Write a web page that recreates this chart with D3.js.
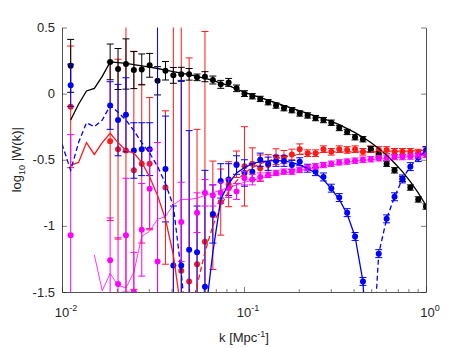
<!DOCTYPE html>
<html>
<head>
<meta charset="utf-8">
<script src="https://cdn.jsdelivr.net/npm/d3@7"></script>
<style>
  body { margin: 0; background: #fff; }
  svg { display: block; font-family: "Liberation Sans", Arial, sans-serif; }
</style>
</head>
<body>
<div id="chart"></div>
<script>
// k grid (first entry only used by the blue dashed model)
var kGrid = [0.0100, 0.01116, 0.01233, 0.01363, 0.01506, 0.01664, 0.01839, 0.02032, 0.02246, 0.02482,
  0.02743, 0.03031, 0.03350, 0.03702, 0.04091, 0.04521, 0.04996, 0.05521, 0.06101, 0.06743,
  0.07451, 0.08234, 0.09100, 0.1006, 0.1111, 0.1228, 0.1357, 0.1500, 0.1658, 0.1832,
  0.2024, 0.2237, 0.2472, 0.2732, 0.3019, 0.3337, 0.3687, 0.4075, 0.4503, 0.4976,
  0.5499, 0.6077, 0.6716, 0.7422, 0.8202, 0.9064, 1.0];

var n = null;

// black
var blackVal = [n, 0.21, n, n, n, n, 0.24, 0.186, 0.224, 0.178, 0.183, 0.214, 0.097, 0.173, 0.138, 0.146,
  0.146, 0.123, 0.128, 0.103, 0.07, 0.085, 0.04, 0.0, -0.02, -0.04, -0.065, -0.09, -0.11, -0.125,
  -0.15, -0.165, -0.185, -0.20, -0.22, -0.26, -0.29, -0.33, -0.345, -0.42, -0.46, -0.53, -0.58, -0.645,
  -0.71, -0.80, -0.854];
var blackErr = [n, 0.20, n, n, n, n, 0.135, 0.155, 0.19, 0.14, 0.117, 0.09, 0.107, 0.07, 0.06, 0.053,
  0.044, 0.025, 0.038, 0.03, 0.03, 0.03, 0.025, 0.022, 0.02, 0.02, 0.02, 0.02, 0.02, 0.02,
  0.02, 0.02, 0.02, 0.02, 0.02, 0.02, 0.02, 0.02, 0.02, 0.02, 0.02, 0.02, 0.02, 0.02,
  0.02, 0.02, 0.02];
var blackModel = [n, -0.2, -0.08, 0.02, 0.04, 0.13, 0.24, 0.235, 0.228, 0.22, 0.21, 0.2, 0.19, 0.178, 0.167,
  0.155, 0.143, 0.13, 0.115, 0.1, 0.08, 0.06, 0.035, 0.01, -0.01, -0.03, -0.05, -0.07, -0.09, -0.11,
  -0.13, -0.15, -0.17, -0.19, -0.21, -0.235, -0.265, -0.295, -0.33, -0.37, -0.415, -0.465, -0.525,
  -0.59, -0.665, -0.75, -0.845];

// red
var redVal = [n, -0.10, n, n, n, n, -0.36, -0.42, -0.43, -0.58, -0.53, -0.53, n, -0.71, -1.6, -1.34,
  -1.42, -1.29, -1.12, -0.92, -0.82, -0.685, -0.534, -0.55, -0.53, -0.564, -0.54, -0.477, -0.48, -0.46,
  -0.42, -0.45, -0.45, -0.42, -0.44, -0.42, -0.426, -0.42, -0.44, -0.42, -0.426, -0.426, -0.44, -0.44,
  -0.44, -0.446, -0.43];
var redErr = [n, 0.46, n, n, n, n, 0.6, 0.68, 1.2, 0.9, 0.6, 0.5, n, 0.58, 2.3, 2.0,
  1.69, 1.02, 1.59, 0.41, 0.25, 0.17, 0.1, 0.3, 0.12, 0.1, 0.08, 0.06, 0.05, 0.04,
  0.04, 0.025, 0.025, 0.025, 0.025, 0.025, 0.025, 0.025, 0.025, 0.025, 0.025, 0.025, 0.025, 0.025,
  0.025, 0.025, 0.025];
var redModel = [n, -0.54, -0.52, -0.37, -0.46, -0.37, -0.30, -0.37, -0.43, -0.45, -0.52, -0.63, -0.77,
  -0.95, -1.22, -1.65, n, n, n, n, n, n, n, n, n, n, n, n, n, n, n, n, n, n, n, n, n, n, n, n, n, n, n,
  n, n, n, n];
var redModelNeg = [n, n, n, n, n, n, n, n, n, n, n, n, n, n, n, n, -1.7, -1.45, -1.2, -1.0, -0.85, -0.74,
  -0.66, -0.6, -0.56, -0.53, -0.51, -0.49, -0.48, -0.47, -0.46, -0.455, -0.45, -0.445, -0.44, -0.44,
  -0.44, -0.44, -0.44, -0.44, -0.44, -0.435, -0.435, -0.435, -0.435, -0.43, -0.43];

// blue
var blueVal = [n, 0.063, n, n, n, n, -0.09, -0.2, -0.16, -0.43, -0.42, -0.42, -1.8, -0.57, -1.3, -1.3,
  -1.18, -1.2, -1.46, -0.91, -0.66, -0.65, -0.54, -0.6, -0.59, -0.50, -0.53, -0.51, -0.51, -0.54,
  -0.515, -0.564, -0.59, -0.63, -0.715, -0.786, -0.9, -1.08, -1.42, n, -1.21, -0.947, -0.78, -0.645,
  -0.552, -0.484, -0.43];
var blueErr = [n, 0.16, n, n, n, n, 0.18, 0.27, 0.28, 0.21, 0.2, 0.2, 2.5, 0.4, 0.45, 1.4,
  0.9, 0.35, 0.88, 0.22, 0.13, 0.12, 0.07, 0.1, 0.06, 0.05, 0.05, 0.04, 0.04, 0.035,
  0.03, 0.03, 0.03, 0.03, 0.03, 0.03, 0.03, 0.03, 0.03, n, 0.03, 0.03, 0.03, 0.03,
  0.03, 0.03, 0.03];
var blueModel = [n, n, n, n, n, n, n, n, n, n, n, n, n, n, n, n, n, n, -1.7, -1.2, -0.80, -0.68, -0.6,
  -0.56, -0.53, -0.515, -0.51, -0.505, -0.51, -0.52, -0.54, -0.565, -0.6, -0.65, -0.72, -0.8, -0.91,
  -1.08, -1.42, -2.5, n, n, n, n, n, n, n];
var blueModelNeg = [-0.38, -0.58, -0.37, -0.22, -0.25, -0.2, -0.09, -0.14, -0.2, -0.28, -0.37, -0.45,
  -0.55, -0.68, -0.85, -1.35, -2.0, n, n, n, n, n, n, n, n, n, n, n, n, n, n, n, n, n, n, n, n, n, n,
  -2.2, -1.21, -0.947, -0.78, -0.645, -0.552, -0.484, -0.43];

// magenta
var magVal = [n, -1.07, n, n, n, n, -1.26, -1.44, -1.07, -1.5, -1.03, -0.72, -1.27, n, n, -0.97,
  n, -0.9, -0.75, -0.77, -0.75, -0.715, -0.74, -0.64, -0.65, -0.63, -0.615, -0.6, -0.59, -0.59,
  -0.577, -0.56, -0.55, -0.54, -0.53, -0.52, -0.514, -0.507, -0.5, -0.496, -0.489, -0.484, -0.48, -0.48,
  -0.476, -0.471, -0.464];
var magErr = [n, 0.76, n, n, n, n, 0.32, 0.35, 0.43, 0.3, 0.35, 0.3, 0.9, n, n, 0.3,
  n, 0.15, 0.1, 0.08, 0.08, 0.07, 0.06, 0.05, 0.04, 0.03, 0.02, 0.02, 0.02, 0.02,
  0.02, 0.02, 0.02, 0.02, 0.02, 0.02, 0.02, 0.02, 0.02, 0.02, 0.02, 0.02, 0.02, 0.02,
  0.02, 0.02, 0.02];
var magModel = [n, n, n, n, -1.22, -1.49, -1.36, -1.45, -1.47, -1.35, -1.08, -1.04, -0.95, -0.93, -0.84,
  -0.8, -0.8, -0.79, -0.77, -0.75, -0.73, -0.71, -0.69, -0.67, -0.655, -0.64, -0.625, -0.61, -0.6,
  -0.59, -0.58, -0.57, -0.56, -0.55, -0.54, -0.53, -0.52, -0.51, -0.505, -0.5, -0.495, -0.49, -0.485,
  -0.48, -0.475, -0.47, -0.465];

var yTicks = [0.5, 0, -0.5, -1, -1.5];
var yTickLabels = ["0.5", "0", "-0.5", "-1", "-1.5"];
var xMajor = [0.01, 0.1, 1];
var xMajorExp = ["-2", "-1", "0"];

var width = 471, height = 348,
    margin = {top: 27.5, right: 45, bottom: 56, left: 62};

var svg = d3.select("#chart").append("svg")
    .attr("width", width)
    .attr("height", height);

var x = d3.scaleLog().domain([0.01, 1]).range([margin.left, width - margin.right]);
var y = d3.scaleLinear().domain([-1.5, 0.5]).range([height - margin.bottom, margin.top]);

svg.append("clipPath").attr("id", "plotclip")
  .append("rect")
    .attr("x", margin.left).attr("y", margin.top)
    .attr("width", width - margin.left - margin.right)
    .attr("height", height - margin.top - margin.bottom);

var plot = svg.append("g").attr("clip-path", "url(#plotclip)");

function rows(vals, errs) {
  var out = [];
  vals.forEach(function(v, i) {
    if (v === null) return;
    out.push({k: kGrid[i], v: v, e: errs ? errs[i] : 0});
  });
  return out;
}

function drawData(vals, errs, color) {
  var d = rows(vals, errs);
  var g = plot.append("g").attr("stroke", color).attr("fill", color);
  g.selectAll(".bar").data(d).enter().append("line")
    .attr("x1", function(r) { return x(r.k); })
    .attr("x2", function(r) { return x(r.k); })
    .attr("y1", function(r) { return y(r.v + r.e); })
    .attr("y2", function(r) { return y(r.v - r.e); })
    .attr("stroke-width", 1);
  [1, -1].forEach(function(s) {
    g.selectAll(".cap" + s).data(d).enter().append("line")
      .attr("x1", function(r) { return x(r.k) - 3.5; })
      .attr("x2", function(r) { return x(r.k) + 3.5; })
      .attr("y1", function(r) { return y(r.v + s * r.e); })
      .attr("y2", function(r) { return y(r.v + s * r.e); })
      .attr("stroke-width", 1);
  });
  g.selectAll("circle").data(d).enter().append("circle")
    .attr("cx", function(r) { return x(r.k); })
    .attr("cy", function(r) { return y(r.v); })
    .attr("r", 3)
    .attr("stroke", "none");
}

function drawModel(vals, color, dash, w) {
  var line = d3.line()
    .defined(function(v) { return v !== null; })
    .x(function(v, i) { return x(kGrid[i]); })
    .y(function(v) { return y(v); });
  plot.append("path")
    .datum(vals)
    .attr("d", line)
    .attr("fill", "none")
    .attr("stroke", color)
    .attr("stroke-width", w || 1.3)
    .attr("stroke-dasharray", dash || null);
}

drawData(redVal, redErr, "#ff1a1a");
drawData(blackVal, blackErr, "#000000");
drawData(blueVal, blueErr, "#0000ff");
drawData(magVal, magErr, "#ff00ff");

drawModel(blackModel, "#000000");
drawModel(redModel, "#ff1a1a");
drawModel(redModelNeg, "#ff1a1a", "5,3");
drawModel(blueModel, "#0000ff");
drawModel(blueModelNeg, "#0000ff", "5,3");
drawModel(magModel, "#ff00ff", null, 0.8);

// axes
var axisColor = "#262626";
var x0 = margin.left, x1 = width - margin.right, y0 = height - margin.bottom, y1 = margin.top;

var xb = d3.axisBottom(x).tickValues(x.ticks()).tickSizeInner(-3).tickSizeOuter(0).tickFormat("");
var gx = svg.append("g").attr("transform", "translate(0," + y0 + ")").call(xb);
gx.selectAll(".tick line").filter(function(d) { return xMajor.indexOf(d) >= 0; }).attr("y2", -5);

var yl = d3.axisLeft(y).tickValues(yTicks).tickSizeInner(-5).tickSizeOuter(0).tickFormat("");
svg.append("g").attr("transform", "translate(" + x0 + ",0)").call(yl);
var yr = d3.axisRight(y).tickValues(yTicks).tickSizeInner(-5).tickSizeOuter(0).tickFormat("");
svg.append("g").attr("transform", "translate(" + x1 + ",0)").call(yr);

svg.selectAll(".domain").attr("stroke", axisColor).attr("stroke-width", 0.8);
svg.selectAll(".tick line").attr("stroke", axisColor).attr("stroke-width", 0.6);

// tick labels
svg.append("g").selectAll("text").data(yTicks).enter().append("text")
  .attr("x", x0 - 7)
  .attr("y", function(d) { return y(d) + 4.5; })
  .attr("text-anchor", "end")
  .attr("font-size", 13)
  .attr("fill", axisColor)
  .text(function(d, i) { return yTickLabels[i]; });

var xl = svg.append("g").selectAll("text").data(xMajor).enter().append("text")
  .attr("x", function(d) { return x(d) + 4; })
  .attr("y", y0 + 24.5)
  .attr("text-anchor", "middle")
  .attr("font-size", 13)
  .attr("fill", axisColor);
xl.append("tspan").text("10");
xl.append("tspan").attr("dy", -6).attr("font-size", 9).text(function(d, i) { return xMajorExp[i]; });

// axis titles
var xt = svg.append("text")
  .attr("x", (x0 + x1) / 2)
  .attr("y", height - 6)
  .attr("text-anchor", "middle")
  .attr("font-size", 13)
  .attr("fill", axisColor);
xt.append("tspan").text("k [Mpc");
xt.append("tspan").attr("dy", -5).attr("font-size", 9).text("-1");
xt.append("tspan").attr("dy", 5).text("]");

var yt = svg.append("text")
  .attr("transform", "translate(21," + ((y0 + y1) / 2) + ") rotate(-90)")
  .attr("text-anchor", "middle")
  .attr("font-size", 13)
  .attr("fill", axisColor);
yt.append("tspan").text("log");
yt.append("tspan").attr("dy", 4).attr("font-size", 9).text("10");
yt.append("tspan").attr("dy", -4).text(" |W(k)|");
</script>
</body>
</html>
